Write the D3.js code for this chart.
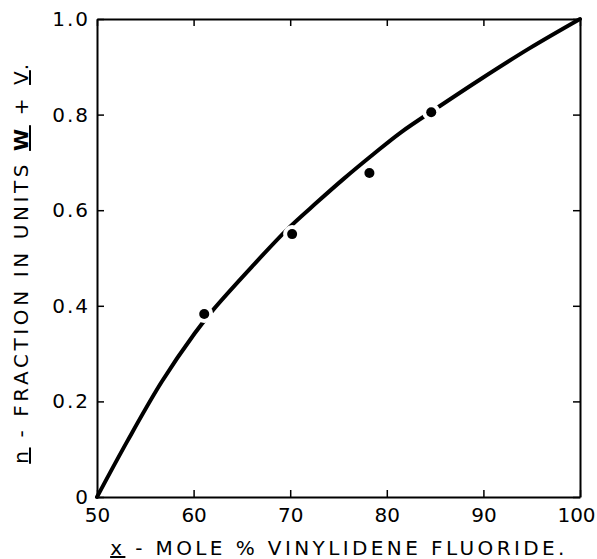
<!DOCTYPE html>
<html>
<head>
<meta charset="utf-8">
<script src="https://cdn.jsdelivr.net/npm/d3@7"></script>
<style>
  body { margin: 0; background: #fff; }
  text { font-family: "DejaVu Sans", sans-serif; fill: #000; }
</style>
</head>
<body>
<script>
// curve (mole % VF, n-fraction)
var curveX = [50, 53.2, 56.7, 60.1, 62.0, 66.0, 69.7, 72.8, 75.5, 78.6, 81.4, 85.5, 89.7, 94.8, 100];
var curveY = [0, 0.119, 0.241, 0.342, 0.391, 0.481, 0.560, 0.617, 0.665, 0.717, 0.762, 0.818, 0.874, 0.939, 1.0];

// measured points
var pointX = [61.1, 70.2, 78.2, 84.6];
var pointY = [0.383, 0.550, 0.678, 0.805];

// tick labels
var xTicks = [50, 60, 70, 80, 90, 100];
var yTicks = [0, 0.2, 0.4, 0.6, 0.8, 1.0];
var yTickLabels = ["0", "0.2", "0.4", "0.6", "0.8", "1.0"];

//Define Margin
var margin = {left: 97, right: 17, top: 19, bottom: 62},
  width = 597 - margin.left - margin.right,
  height = 559 - margin.top - margin.bottom;

//Define SVG
var svg = d3.select("body")
  .append("svg")
  .attr("width", width + margin.left + margin.right)
  .attr("height", height + margin.top + margin.bottom);

var g = svg.append("g")
  .attr("transform", "translate(" + margin.left + "," + margin.top + ")");

var x = d3.scaleLinear().domain([50, 100]).range([0, width]);
var y = d3.scaleLinear().domain([0, 1]).range([height, 0]);

// axes, ticks point inward
var xAxis = g.append("g")
  .attr("transform", "translate(0," + height + ")")
  .call(d3.axisBottom(x).tickValues(xTicks).tickSize(-7).tickSizeOuter(0).tickPadding(11));
var yAxis = g.append("g")
  .call(d3.axisLeft(y).tickValues(yTicks).tickSize(-7).tickSizeOuter(0).tickPadding(7)
    .tickFormat(function(d, i) { return yTickLabels[i]; }));
var topAxis = g.append("g")
  .call(d3.axisTop(x).tickValues(xTicks).tickSize(-7).tickSizeOuter(0).tickFormat(""));
var rightAxis = g.append("g")
  .attr("transform", "translate(" + width + ",0)")
  .call(d3.axisRight(y).tickValues(yTicks).tickSize(-7).tickSizeOuter(0).tickFormat(""));

[xAxis, yAxis, topAxis, rightAxis].forEach(function(a) {
  a.select(".domain").attr("stroke", "#000").attr("stroke-width", 2);
  a.selectAll(".tick line").attr("stroke", "#000").attr("stroke-width", 1.5);
  a.selectAll(".tick text")
    .style("font-family", "DejaVu Sans, sans-serif")
    .attr("font-size", 20)
    .attr("fill", "#000");
});
yAxis.selectAll(".tick text").attr("letter-spacing", 2);
// last label sits right on the page edge
xAxis.selectAll(".tick text").filter(function(d) { return d === 100; }).attr("dx", -4);

// the curve
var line = d3.line()
  .x(function(d, i) { return x(curveX[i]); })
  .y(function(d, i) { return y(curveY[i]); })
  .curve(d3.curveCatmullRom);

g.append("path")
  .datum(curveX)
  .attr("d", line)
  .attr("fill", "none")
  .attr("stroke", "#000")
  .attr("stroke-width", 4)
  .attr("stroke-linecap", "round");

// white halo breaks the line round each point, like the drawing
g.selectAll(".halo")
  .data(pointX)
  .enter().append("circle")
  .attr("class", "halo")
  .attr("cx", function(d) { return x(d); })
  .attr("cy", function(d, i) { return y(pointY[i]); })
  .attr("r", 9)
  .attr("fill", "#fff");

g.selectAll(".dot")
  .data(pointX)
  .enter().append("circle")
  .attr("class", "dot")
  .attr("cx", function(d) { return x(d); })
  .attr("cy", function(d, i) { return y(pointY[i]); })
  .attr("r", 5)
  .attr("fill", "#000");

// x label
var xl = svg.append("text")
  .attr("x", 339)
  .attr("y", 555)
  .attr("text-anchor", "middle")
  .attr("font-size", 20)
  .attr("letter-spacing", 3.4);
xl.append("tspan").attr("text-decoration", "underline").text("x");
xl.append("tspan").text(" - MOLE  %  VINYLIDENE  FLUORIDE.");

// y label
var yl = svg.append("text")
  .attr("transform", "translate(28,262) rotate(-90)")
  .attr("text-anchor", "middle")
  .attr("font-size", 20)
  .attr("letter-spacing", 3.6);
yl.append("tspan").attr("text-decoration", "underline").text("n");
yl.append("tspan").text(" - FRACTION  IN  UNITS  ");
yl.append("tspan").attr("text-decoration", "underline").attr("font-weight", "bold").text("W");
yl.append("tspan").text(" + ");
yl.append("tspan").attr("text-decoration", "underline").text("V");
yl.append("tspan").text(".");
</script>
</body>
</html>
